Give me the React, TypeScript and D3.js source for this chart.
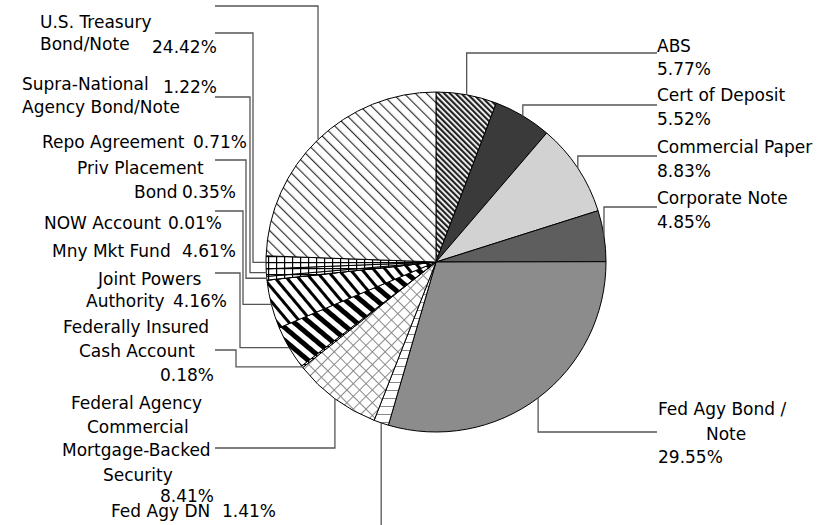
import { useMemo } from "react";
import * as d3 from "d3";

// Slices, clockwise from 12 o'clock
const categories = [
  "ABS",
  "Cert of Deposit",
  "Commercial Paper",
  "Corporate Note",
  "Fed Agy Bond / Note",
  "Fed Agy DN",
  "Federal Agency Commercial Mortgage-Backed Security",
  "Federally Insured Cash Account",
  "Joint Powers Authority",
  "Mny Mkt Fund",
  "NOW Account",
  "Priv Placement Bond",
  "Repo Agreement",
  "Supra-National Agency Bond/Note",
  "U.S. Treasury Bond/Note",
];
const shares = [5.77, 5.52, 8.83, 4.85, 29.55, 1.41, 8.41, 0.18, 4.16, 4.61, 0.01, 0.35, 0.71, 1.22, 24.42];
const fills = [
  "url(#pAbs)", "#3a3a3a", "#d2d2d2", "#5e5e5e", "#8c8c8c", "url(#pHoriz)", "url(#pCross)",
  "url(#pGrid)", "url(#pThick)", "url(#pMedium)", "url(#pGrid)", "url(#pGrid)", "url(#pGrid)",
  "url(#pGrid)", "url(#pThin)",
];

type Slice = { name: string; value: number; fill: string };
const slices: Slice[] = categories.map((name, i) => ({ name, value: shares[i], fill: fills[i] }));

// label text lines: [text, x, baseline]
type Txt = [string, number, number];
const labelTexts: Txt[] = [
  ["ABS", 657, 52], ["5.77%", 657, 75],
  ["Cert of Deposit", 657, 101], ["5.52%", 657, 125],
  ["Commercial Paper", 657, 153], ["8.83%", 657, 177],
  ["Corporate Note", 657, 204], ["4.85%", 657, 228],
  ["Fed Agy Bond /", 658, 415], ["Note", 706, 440], ["29.55%", 658, 463],
  ["U.S. Treasury", 40, 28], ["Bond/Note", 40, 50], ["24.42%", 152, 53],
  ["Supra-National", 22, 90], ["1.22%", 163, 93], ["Agency Bond/Note", 22, 113],
  ["Repo Agreement", 42, 148], ["0.71%", 193, 148],
  ["Priv Placement", 77, 174], ["Bond", 134, 198], ["0.35%", 182, 198],
  ["NOW Account", 44, 229], ["0.01%", 168, 229],
  ["Mny Mkt Fund", 52, 257], ["4.61%", 182, 257],
  ["Joint Powers", 98, 285], ["Authority", 86, 307], ["4.16%", 173, 307],
  ["Federally Insured", 63, 333], ["Cash Account", 79, 357], ["0.18%", 160, 381],
  ["Federal Agency", 71, 409], ["Commercial", 87, 433], ["Mortgage-Backed", 62, 456],
  ["Security", 103, 481], ["8.41%", 160, 502],
  ["Fed Agy DN", 111, 517], ["1.41%", 222, 517],
];

// leader lines: slice -> elbow x (null = straight from arc) -> label y -> end x
type Leader = { slice: string; elbow: number | null; y: number; end: number };
const leaders: Leader[] = [
  { slice: "ABS", elbow: null, y: 53, end: 657 },
  { slice: "Cert of Deposit", elbow: null, y: 105, end: 657 },
  { slice: "Commercial Paper", elbow: null, y: 156, end: 657 },
  { slice: "Corporate Note", elbow: null, y: 207, end: 657 },
  { slice: "Fed Agy Bond / Note", elbow: null, y: 432, end: 657 },
  { slice: "U.S. Treasury Bond/Note", elbow: null, y: 6, end: 215 },
  { slice: "Supra-National Agency Bond/Note", elbow: 253, y: 33, end: 215 },
  { slice: "Repo Agreement", elbow: 250, y: 97, end: 215 },
  { slice: "Priv Placement Bond", elbow: 246, y: 160, end: 215 },
  { slice: "Mny Mkt Fund", elbow: 243, y: 211, end: 215 },
  { slice: "Joint Powers Authority", elbow: 240, y: 273, end: 215 },
  { slice: "Federally Insured Cash Account", elbow: 236, y: 350, end: 215 },
  { slice: "Federal Agency Commercial Mortgage-Backed Security", elbow: null, y: 448, end: 215 },
  { slice: "Fed Agy DN", elbow: null, y: 540, end: 382 },
];

const W = 840;
const H = 525;
const CX = 436;
const CY = 262;
const R = 170;

export default function App() {
  const arcs = useMemo(
    () => d3.pie<Slice>().value((d) => d.value).sort(null)(slices),
    []
  );
  const arc = d3.arc<d3.PieArcDatum<Slice>>().innerRadius(0).outerRadius(R);
  const edge = d3.arc<d3.PieArcDatum<Slice>>().innerRadius(R).outerRadius(R);

  const leaderPath = (l: Leader) => {
    const d = arcs.find((a) => a.data.name === l.slice)!;
    const [px, py] = edge.centroid(d);
    const x0 = CX + px;
    const y0 = CY + py;
    const p = d3.path();
    p.moveTo(x0, y0);
    if (l.elbow !== null) {
      p.lineTo(l.elbow, y0);
      p.lineTo(l.elbow, l.y);
    } else {
      p.lineTo(x0, l.y);
    }
    p.lineTo(l.end, l.y);
    return p.toString();
  };

  return (
    <svg
      width={W}
      height={H}
      style={{ position: "absolute", left: 0, top: 0, background: "#fff" }}
      fontFamily="DejaVu Sans, Verdana, sans-serif"
      fontSize={17}
    >
      <defs>
        <pattern id="pAbs" width="4" height="4" patternUnits="userSpaceOnUse" patternTransform="rotate(-45)">
          <rect width="4" height="4" fill="#fff" />
          <rect width="2.2" height="4" fill="#222" />
        </pattern>
        <pattern id="pThin" width="8" height="8" patternUnits="userSpaceOnUse" patternTransform="rotate(-45)">
          <rect width="8" height="8" fill="#fff" />
          <rect width="1.2" height="8" fill="#333" />
        </pattern>
        <pattern id="pMedium" width="9" height="9" patternUnits="userSpaceOnUse" patternTransform="rotate(-40)">
          <rect width="9" height="9" fill="#fff" />
          <rect width="3" height="9" fill="#000" />
        </pattern>
        <pattern id="pThick" width="10" height="10" patternUnits="userSpaceOnUse" patternTransform="rotate(-50)">
          <rect width="10" height="10" fill="#fff" />
          <rect width="5" height="10" fill="#000" />
        </pattern>
        <pattern id="pCross" width="9" height="9" patternUnits="userSpaceOnUse" patternTransform="rotate(45)">
          <rect width="9" height="9" fill="#fff" />
          <rect width="1" height="9" fill="#8a8a8a" />
          <rect width="9" height="1" fill="#8a8a8a" />
        </pattern>
        <pattern id="pHoriz" width="8" height="8" patternUnits="userSpaceOnUse">
          <rect width="8" height="8" fill="#fff" />
          <rect width="8" height="1" fill="#888" />
        </pattern>
        <pattern id="pGrid" width="8" height="6" patternUnits="userSpaceOnUse">
          <rect width="8" height="6" fill="#fff" />
          <rect width="1.2" height="6" fill="#000" />
          <rect width="8" height="1.2" fill="#000" />
        </pattern>
      </defs>

      <g transform={`translate(${CX},${CY})`}>
        {arcs.map((a) => (
          <path key={a.data.name} d={arc(a) ?? ""} fill={a.data.fill} stroke="#000" strokeWidth={1} />
        ))}
      </g>

      <g fill="none" stroke="#555" strokeWidth={1.3}>
        {leaders.map((l) => (
          <path key={l.slice} d={leaderPath(l)} />
        ))}
      </g>

      <g fill="#000">
        {labelTexts.map(([t, x, y], i) => (
          <text key={i} x={x} y={y}>
            {t}
          </text>
        ))}
      </g>
    </svg>
  );
}
